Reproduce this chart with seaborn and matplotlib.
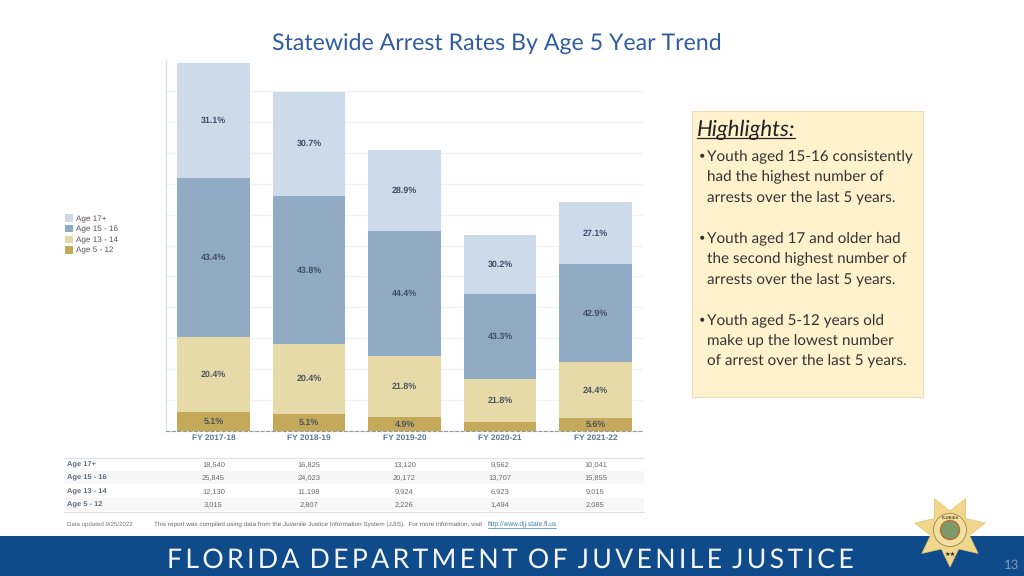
import numpy as np
import pandas as pd
import seaborn as sns
import matplotlib
matplotlib.use("Agg")
import matplotlib.pyplot as plt
from matplotlib.patches import Rectangle, Polygon, Circle
from matplotlib.transforms import blended_transform_factory

years = ["FY 2017-18", "FY 2018-19", "FY 2019-20", "FY 2020-21", "FY 2021-22"]
age_5_12 = [3015, 2807, 2226, 1494, 2085]
age_13_14 = [12130, 11198, 9924, 6923, 9015]
age_15_16 = [25845, 24023, 20172, 13707, 15855]
age_17_up = [18540, 16825, 13120, 9562, 10041]
pct_5_12 = ["5.1%", "5.1%", "4.9%", "", "5.6%"]
pct_13_14 = ["20.4%", "20.4%", "21.8%", "21.8%", "24.4%"]
pct_15_16 = ["43.4%", "43.8%", "44.4%", "43.3%", "42.9%"]
pct_17_up = ["31.1%", "30.7%", "28.9%", "30.2%", "27.1%"]
title = "Statewide Arrest Rates By Age 5 Year Trend"
footer = "FLORIDA DEPARTMENT OF JUVENILE JUSTICE"
highlights = [
    "Youth aged 15-16 consistently\nhad the highest number of\narrests over the last 5 years.",
    "Youth aged 17 and older had\nthe second highest number of\narrests over the last 5 years.",
    "Youth aged 5-12 years old\nmake up the lowest number\nof arrest over the last 5 years.",
]

sns.set_theme(style="white")
BODY = ["Lato", "DejaVu Sans"]
ARIAL = ["Liberation Sans", "DejaVu Sans"]
plt.rcParams["font.family"] = BODY
plt.rcParams["text.hinting"] = "no_hinting"
plt.rcParams["text.hinting_factor"] = 8

fig = plt.figure(figsize=(10.24, 5.76), dpi=100, facecolor="white")
W, H = 1024, 576
pg = fig.add_axes([0, 0, 1, 1])
pg.set_xlim(0, W); pg.set_ylim(H, 0); pg.axis("off")

L, R, T, B = 165.75, 643.25, 60.0, 431.0
ax = fig.add_axes([L / W, 1 - B / H, (R - L) / W, (B - T) / H])
ax.patch.set_alpha(0)

df = pd.DataFrame({"year": years, "a": age_5_12, "b": age_13_14, "c": age_15_16, "d": age_17_up})
layers = [
    ("a", "Age 5 - 12", "#C4A95B", pct_5_12, "#4F5560"),
    ("b", "Age 13 - 14", "#E6DAA8", pct_13_14, "#4F5560"),
    ("c", "Age 15 - 16", "#92ABC4", pct_15_16, "#3F5068"),
    ("d", "Age 17+", "#CCDAE9", pct_17_up, "#3F5068"),
]
bottom = np.zeros(len(years))
for key, name, col, pct, tcol in layers:
    sns.barplot(data=df, x="year", y=key, bottom=bottom, color=col, saturation=1,
                width=0.76, label=name, ax=ax, legend=False, zorder=3, linewidth=0)
    ax.bar_label(ax.containers[-1], labels=pct, label_type="center", fontsize=6.4,
                 fontweight="bold", color=tcol, family=ARIAL, zorder=4)
    bottom = bottom + df[key].to_numpy()

ax.set_xlim(-0.5, 4.5)
ax.set_ylim(0, 60000)
ax.set_yticks(np.arange(0, 55001, 5000))
ax.set_ylabel(""); ax.set_xlabel("")
ax.tick_params(axis="y", labelleft=False, length=0)
ax.tick_params(axis="x", length=0, pad=2.5)
for lab in ax.get_xticklabels():
    lab.set_fontsize(6.0); lab.set_fontweight("bold"); lab.set_color("#5F7896"); lab.set_family(ARIAL)
ax.yaxis.grid(True, color="#F1F3F6", linewidth=1, zorder=0)
ax.set_axisbelow(True)
for s in ["top", "right"]:
    ax.spines[s].set_visible(False)
ax.spines["left"].set_color("#DDE3EA"); ax.spines["left"].set_linewidth(1)
ax.spines["bottom"].set_color("#999999"); ax.spines["bottom"].set_linewidth(0.8)
ax.spines["bottom"].set_linestyle((0, (3, 2)))

h, l = ax.get_legend_handles_labels()
ax.legend(h[::-1], l[::-1], loc="upper left", bbox_to_anchor=(65, 214.5), bbox_transform=pg.transData,
          frameon=False, labelcolor="#5A5058", labelspacing=0.3, handlelength=0.98,
          handleheight=1.0, handletextpad=0.38, borderpad=0, borderaxespad=0,
          prop={"family": ARIAL, "size": 5.9})

# title
pg.text(497, 44.5, title, ha="center", va="center", fontsize=16.65, color="#2F5C9E")

# table under the chart
tr = blended_transform_factory(ax.transData, pg.transData)
rows = [("Age 17+", age_17_up, 465), ("Age 15 - 16", age_15_16, 478),
        ("Age 13 - 14", age_13_14, 492), ("Age 5 - 12", age_5_12, 505)]
pg.add_patch(Rectangle((64, 470.5), 580, 13.5, color="#F7F7F7", lw=0))
pg.add_patch(Rectangle((64, 497.5), 580, 13.5, color="#F7F7F7", lw=0))
pg.plot([64, 644], [457.5, 457.5], color="#E2E2E2", lw=0.8)
pg.plot([64, 644], [511.5, 511.5], color="#E2E2E2", lw=0.8)
for name, vals, y in rows:
    pg.text(67, y, name, ha="left", va="center", fontsize=5.4, fontweight="bold", color="#5F6B7C", family=ARIAL)
    for i, v in enumerate(vals):
        pg.text(i, y, f"{v:,}", transform=tr, ha="center", va="center", fontsize=5.4, color="#666666", family=ARIAL)

pg.text(67, 524.5, "Data updated 9/25/2022", ha="left", va="center", fontsize=4.4, color="#777777", family=ARIAL)
pg.text(154, 524, "This report was compiled using data from the Juvenile Justice Information System (JJIS).  For more information, visit",
        ha="left", va="center", fontsize=4.58, color="#666666", family=ARIAL)
pg.text(488, 524, "http://www.djj.state.fl.us", ha="left", va="center", fontsize=4.75, color="#3E7FA8", family=ARIAL)
pg.plot([488, 556], [527.5, 527.5], color="#3E7FA8", lw=0.5)

# highlights box
pg.add_patch(Rectangle((692, 111), 231, 286, facecolor="#FFF2CC", edgecolor="#E6DCC0", lw=0.8))
hl = pg.text(697, 130, "Highlights:", ha="left", va="center", fontsize=16, style="italic", color="#222222")
fig.canvas.draw()
e = hl.get_window_extent()
pg.plot([e.x0, e.x1], [138, 138], color="#222222", lw=0.9)
for txt, y in zip(highlights, [156, 238, 320]):
    pg.text(702.5, y, "\u2022", ha="center", va="center", fontsize=8, color="#333333")
    pg.text(707, y - 6.5, txt, ha="left", va="top", fontsize=11.0, color="#333333", linespacing=1.58)

# footer band
pg.add_patch(Rectangle((0, 536), W, 40, color="#0F4A8A", lw=0))
pg.text(167, 560, "\u2009".join(footer).replace("\u2009 \u2009", " \u2009"), ha="left", va="center", fontsize=19.17, color="#F4F6FA", family=BODY)
pg.text(1012, 565, "13", ha="center", va="center", fontsize=9.5, color="#7F9BB8")

# badge
cx, cy = 950, 531
ang = np.pi / 2 + np.arange(14) * np.pi / 7
rad = np.where(np.arange(14) % 2 == 0, 36, 20)
pts = np.c_[cx + rad * np.cos(ang), cy + rad * np.sin(ang)]
pg.add_patch(Polygon(pts, closed=True, facecolor="#F0D78C", edgecolor="#E3C26E", lw=0.5, zorder=5))
pg.add_patch(Circle((950, 530), 16.5, facecolor="#F3DFA2", edgecolor="#8A7440", lw=0.5, zorder=6))
pg.add_patch(Circle((950, 530), 9.5, facecolor="#7F9A6A", edgecolor="#B5702A", lw=1.0, zorder=7))
pg.text(950, 517.5, "FLORIDA", ha="center", va="center", fontsize=2.8, fontweight="bold", color="#4A3C1A", zorder=8, family=ARIAL)
pg.text(950, 554, "\u2605\u2605", ha="center", va="center", fontsize=4.5, color="#222222", zorder=8, family=["DejaVu Sans"])

fig.savefig("out.png", dpi=100)
